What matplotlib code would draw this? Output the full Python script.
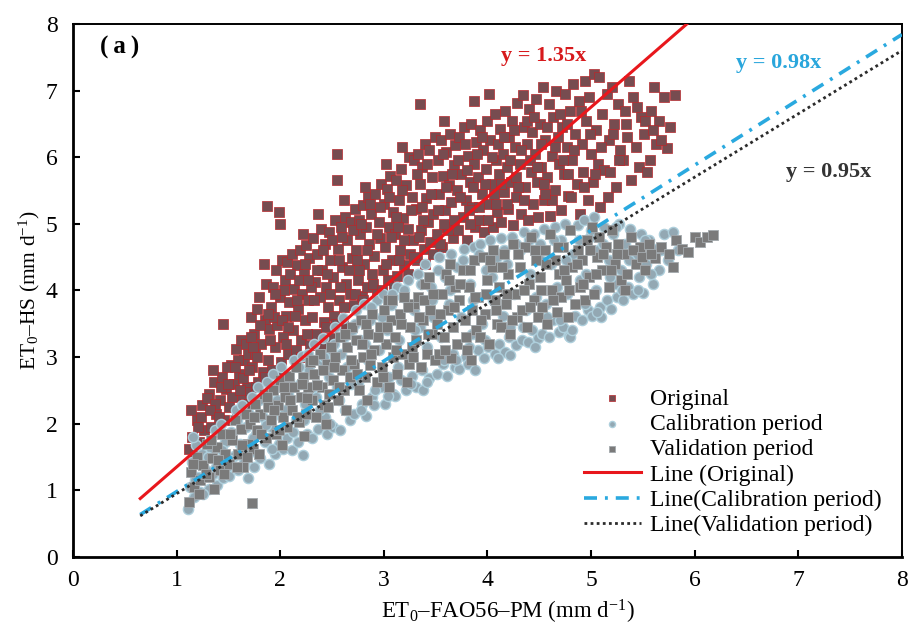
import matplotlib
matplotlib.use("Agg")
import matplotlib.pyplot as plt
import numpy as np

# ---- data (mm d-1) ----
original_pts = [
    (1.12, 1.62), (1.15, 1.80), (1.18, 1.55), (1.20, 2.05), (1.22, 1.72), (1.25, 2.28), (1.27, 1.90), (1.14, 2.20),
    (1.31, 2.45), (1.33, 1.95), (1.36, 2.62), (1.38, 2.15), (1.40, 1.88), (1.42, 2.35), (1.44, 2.70), (1.46, 2.05),
    (1.48, 2.52), (1.45, 3.50), (1.35, 2.80),
    (1.51, 2.25), (1.53, 2.88), (1.55, 2.60), (1.57, 3.12), (1.58, 2.18), (1.60, 2.75), (1.62, 3.25), (1.63, 2.42),
    (1.65, 2.95), (1.67, 3.20), (1.68, 2.55), (1.69, 3.05), (1.66, 2.30),
    (1.71, 2.48), (1.72, 3.60), (1.73, 2.85), (1.75, 3.35), (1.76, 3.05), (1.78, 3.72), (1.79, 2.62), (1.80, 3.90),
    (1.82, 3.20), (1.83, 2.78), (1.85, 3.55), (1.86, 4.10), (1.87, 5.27), (1.88, 2.95), (1.89, 3.42), (1.84, 4.40),
    (1.91, 3.75), (1.92, 2.80), (1.93, 4.05), (1.95, 3.15), (1.96, 4.30), (1.97, 3.48), (1.99, 5.17), (2.00, 3.90),
    (2.01, 2.92), (2.02, 4.45), (2.03, 3.30), (2.05, 4.15), (2.06, 3.62), (2.07, 4.42), (2.08, 3.05), (2.09, 3.82),
    (2.00, 5.00),
    (2.11, 4.55), (2.12, 3.40), (2.13, 4.02), (2.15, 3.10), (2.16, 4.38), (2.17, 3.72), (2.19, 4.60), (2.20, 3.25),
    (2.21, 3.95), (2.23, 4.25), (2.24, 3.55), (2.25, 4.68), (2.27, 3.85), (2.28, 4.48), (2.29, 3.18), (2.22, 4.85),
    (2.31, 3.60), (2.32, 4.78), (2.34, 4.12), (2.35, 3.35), (2.36, 4.55), (2.38, 3.90), (2.39, 4.92), (2.40, 4.30),
    (2.42, 3.52), (2.43, 4.70), (2.44, 4.05), (2.46, 3.75), (2.47, 4.88), (2.48, 4.45), (2.49, 3.28), (2.37, 5.15),
    (2.51, 4.20), (2.52, 3.62), (2.53, 5.05), (2.55, 6.05), (2.55, 5.65), (2.56, 4.62), (2.57, 3.85), (2.59, 4.95),
    (2.60, 4.35), (2.61, 3.50), (2.63, 5.10), (2.64, 4.10), (2.65, 4.75), (2.67, 3.95), (2.68, 5.02), (2.69, 4.48),
    (2.62, 5.35),
    (2.71, 3.78), (2.72, 5.22), (2.73, 4.60), (2.75, 4.15), (2.76, 5.05), (2.77, 4.85), (2.79, 3.92), (2.80, 5.28),
    (2.81, 4.40), (2.83, 4.95), (2.84, 4.05), (2.85, 5.40), (2.86, 4.70), (2.88, 5.15), (2.89, 4.25), (2.82, 5.55),
    (2.91, 4.52), (2.92, 5.45), (2.93, 3.98), (2.95, 5.02), (2.96, 4.78), (2.97, 5.60), (2.99, 4.30), (3.00, 5.30),
    (3.01, 4.65), (3.03, 5.52), (3.04, 4.15), (3.05, 4.95), (3.06, 5.72), (3.08, 4.45), (3.09, 5.18), (3.02, 5.90),
    (3.11, 4.85), (3.12, 5.65), (3.13, 4.22), (3.15, 5.35), (3.16, 4.60), (3.17, 5.82), (3.19, 5.08), (3.20, 4.38),
    (3.21, 5.58), (3.23, 4.92), (3.24, 6.00), (3.25, 4.55), (3.27, 5.40), (3.28, 4.75), (3.29, 5.95), (3.18, 6.15),
    (3.31, 5.22), (3.32, 4.45), (3.33, 6.05), (3.35, 6.80), (3.35, 5.60), (3.36, 4.90), (3.37, 5.85), (3.39, 4.62),
    (3.40, 6.20), (3.41, 5.38), (3.43, 5.02), (3.44, 6.10), (3.45, 4.72), (3.47, 5.70), (3.48, 5.15), (3.49, 6.30),
    (3.51, 4.85), (3.52, 5.95), (3.53, 5.45), (3.55, 6.25), (3.56, 4.65), (3.57, 5.72), (3.59, 5.20), (3.60, 6.08),
    (3.61, 4.95), (3.63, 5.58), (3.64, 6.35), (3.65, 5.32), (3.67, 4.78), (3.68, 5.88), (3.69, 6.18), (3.58, 6.55),
    (3.71, 5.50), (3.72, 4.90), (3.73, 6.30), (3.75, 5.75), (3.76, 5.10), (3.77, 6.45), (3.79, 5.35), (3.80, 4.75),
    (3.81, 6.02), (3.83, 5.62), (3.84, 6.50), (3.85, 5.25), (3.87, 6.85), (3.87, 5.90), (3.88, 4.95), (3.89, 6.22),
    (3.91, 5.70), (3.92, 5.05), (3.93, 6.40), (3.95, 5.45), (3.96, 6.10), (3.97, 4.88), (3.99, 5.82), (4.00, 6.55),
    (4.01, 5.30), (4.03, 6.25), (4.04, 5.60), (4.05, 4.95), (4.07, 6.65), (4.08, 5.95), (4.09, 5.18), (4.02, 6.95),
    (4.11, 5.75), (4.12, 6.42), (4.13, 5.02), (4.15, 6.05), (4.16, 5.48), (4.17, 6.70), (4.19, 5.85), (4.20, 5.22),
    (4.21, 6.30), (4.23, 5.62), (4.24, 6.55), (4.25, 4.98), (4.27, 6.15), (4.28, 5.40), (4.29, 6.82),
    (4.31, 5.90), (4.32, 5.15), (4.34, 6.93), (4.35, 6.45), (4.36, 5.55), (4.38, 6.20), (4.39, 5.05), (4.40, 6.72),
    (4.42, 5.78), (4.43, 6.38), (4.44, 5.30), (4.46, 6.05), (4.47, 6.88), (4.48, 5.62), (4.49, 5.10),
    (4.51, 6.50), (4.52, 5.85), (4.54, 7.05), (4.55, 5.35), (4.56, 6.25), (4.58, 5.70), (4.59, 6.80), (4.60, 5.12),
    (4.62, 6.02), (4.63, 6.60), (4.65, 5.50), (4.66, 7.00), (4.68, 6.30), (4.69, 5.90),
    (4.71, 5.20), (4.72, 6.45), (4.74, 5.75), (4.75, 6.95), (4.77, 6.15), (4.78, 5.42), (4.80, 6.70), (4.82, 5.95),
    (4.83, 7.10), (4.85, 6.35), (4.86, 5.60), (4.88, 6.85), (4.89, 5.15),
    (4.91, 6.20), (4.92, 5.78), (4.94, 7.15), (4.95, 6.55), (4.97, 5.35), (4.98, 6.90), (5.00, 6.05), (5.02, 5.62),
    (5.03, 7.25), (5.05, 6.40), (5.07, 5.90), (5.08, 7.20), (5.09, 5.25),
    (5.11, 6.65), (5.13, 5.80), (5.15, 6.95), (5.17, 6.25), (5.18, 5.77), (5.20, 7.05), (5.22, 6.50), (5.24, 5.55),
    (5.26, 6.80), (5.28, 6.10),
    (5.31, 5.95), (5.33, 6.70), (5.35, 6.30), (5.37, 7.15), (5.39, 5.65), (5.41, 6.90), (5.43, 6.15), (5.46, 5.85),
    (5.48, 6.60),
    (5.51, 6.35), (5.54, 5.77), (5.57, 5.96), (5.58, 6.70), (5.61, 7.05), (5.63, 6.20), (5.66, 6.55), (5.70, 6.90),
    (5.73, 6.14), (5.76, 6.45), (5.81, 6.93),
    # denser core
    (1.24, 2.10), (1.29, 2.38), (1.37, 2.30), (1.43, 2.55), (1.49, 2.85), (1.54, 2.40), (1.59, 2.95), (1.64, 2.68),
    (1.70, 2.80), (1.74, 3.15), (1.77, 2.55), (1.81, 3.48), (1.85, 2.70), (1.90, 3.25), (1.94, 3.60), (1.98, 2.75),
    (2.02, 3.55), (2.04, 4.00), (2.08, 3.45), (2.10, 4.25), (2.14, 3.62), (2.18, 4.15), (2.20, 3.00), (2.24, 4.40),
    (2.26, 3.35), (2.30, 4.05), (2.33, 3.85), (2.36, 4.30), (2.39, 3.20), (2.41, 4.60), (2.45, 4.25), (2.48, 3.95),
    (2.50, 4.75), (2.54, 3.50), (2.57, 4.45), (2.60, 4.80), (2.62, 3.75), (2.66, 4.30), (2.70, 4.90), (2.72, 3.95),
    (2.74, 4.45), (2.78, 5.00), (2.80, 3.85), (2.84, 4.60), (2.87, 5.30), (2.90, 4.10), (2.93, 4.85), (2.96, 5.25),
    (2.98, 4.00), (3.02, 4.40), (3.05, 5.40), (3.07, 4.80), (3.10, 4.05), (3.12, 5.10), (3.15, 4.45), (3.18, 5.50),
    (3.20, 4.75), (3.23, 4.25), (3.26, 5.20), (3.29, 4.50), (3.32, 5.75), (3.34, 4.80), (3.37, 5.25), (3.40, 4.40),
    (3.42, 5.90), (3.46, 5.45), (3.48, 4.55), (3.52, 5.20), (3.54, 4.70), (3.57, 6.05), (3.60, 5.55), (3.62, 4.90),
    (3.66, 5.75), (3.68, 5.05), (3.72, 5.95), (3.74, 5.40), (3.78, 6.20), (3.80, 5.80), (3.83, 5.00), (3.86, 5.55),
    (3.90, 6.05), (3.92, 5.25), (3.95, 6.30), (3.98, 5.60), (4.01, 5.05), (4.04, 6.00), (4.06, 5.45), (4.10, 6.20),
    (4.13, 5.60), (4.16, 6.30), (4.19, 5.30), (4.22, 5.95), (4.26, 6.40), (4.28, 5.70), (4.32, 6.10), (4.35, 5.35),
    (4.38, 6.55), (4.41, 5.95), (4.45, 6.60), (4.48, 5.85), (4.52, 6.20), (4.55, 5.60), (4.58, 6.45), (4.62, 5.35),
    (4.65, 6.15), (4.70, 6.65), (4.73, 5.95), (4.77, 6.50), (4.81, 5.40), (4.84, 6.10), (4.90, 6.70), (4.93, 5.55),
    (4.99, 6.35), (5.04, 5.75), (5.10, 6.15), (5.16, 5.40), (5.21, 6.35), (5.27, 5.95), (5.34, 6.50), (5.44, 6.75),
    (5.52, 6.55), (5.60, 6.40), (5.68, 6.25),
    (1.21, 1.95), (1.32, 2.20), (1.41, 2.10), (1.50, 2.60), (1.56, 2.85), (1.61, 2.50), (1.72, 3.30), (1.78, 3.00),
    (1.88, 3.65), (1.95, 3.95), (2.06, 3.20), (2.16, 3.85), (2.27, 4.15), (2.44, 3.45), (2.58, 4.05), (2.76, 4.30),
    (3.14, 4.95), (3.38, 5.05), (3.58, 5.00), (3.82, 5.20), (4.08, 5.30), (4.30, 5.55), (4.56, 5.45), (4.78, 5.75),
]

calibration_pts = [
    (1.11, 0.72), (1.13, 1.05), (1.15, 1.42), (1.17, 0.90), (1.19, 1.68), (1.21, 1.20), (1.23, 0.98), (1.25, 1.55),
    (1.28, 1.30), (1.16, 1.80),
    (1.31, 1.02), (1.33, 1.62), (1.35, 1.25), (1.37, 1.90), (1.39, 1.08), (1.41, 1.45), (1.43, 2.00), (1.45, 1.18),
    (1.47, 1.72), (1.49, 1.35),
    (1.51, 1.22), (1.53, 1.88), (1.55, 1.52), (1.57, 2.20), (1.59, 1.30), (1.61, 1.70), (1.63, 2.28), (1.65, 1.42),
    (1.67, 1.95), (1.69, 1.18),
    (1.71, 1.58), (1.73, 2.40), (1.75, 1.35), (1.77, 1.85), (1.79, 2.55), (1.81, 1.48), (1.83, 2.10), (1.85, 1.72),
    (1.87, 2.62), (1.89, 1.40),
    (1.91, 1.95), (1.93, 2.75), (1.95, 1.55), (1.97, 2.35), (1.99, 1.70), (2.01, 2.85), (2.03, 1.62), (2.05, 2.20),
    (2.07, 1.78), (2.09, 2.65),
    (2.11, 1.60), (2.13, 2.95), (2.15, 2.05), (2.17, 1.72), (2.19, 2.60), (2.21, 3.02), (2.22, 1.53), (2.24, 2.30),
    (2.26, 1.85), (2.28, 2.80),
    (2.31, 1.78), (2.33, 3.20), (2.35, 2.40), (2.37, 1.92), (2.39, 2.95), (2.41, 3.28), (2.43, 2.10), (2.45, 1.85),
    (2.47, 2.70), (2.49, 3.10),
    (2.51, 1.95), (2.53, 3.45), (2.55, 2.55), (2.58, 1.90), (2.59, 3.05), (2.61, 3.58), (2.63, 2.20), (2.65, 2.85),
    (2.67, 2.05), (2.69, 3.40),
    (2.71, 2.15), (2.73, 3.70), (2.75, 2.60), (2.77, 3.25), (2.79, 2.30), (2.81, 3.80), (2.83, 2.12), (2.85, 2.95),
    (2.87, 3.55), (2.89, 2.40),
    (2.91, 2.28), (2.93, 3.85), (2.95, 3.10), (2.97, 2.55), (2.99, 3.95), (3.01, 2.30), (3.03, 3.40), (3.05, 2.70),
    (3.07, 3.78), (3.09, 2.45),
    (3.11, 2.42), (3.13, 4.05), (3.15, 3.25), (3.17, 2.65), (3.19, 3.90), (3.21, 2.50), (3.23, 4.15), (3.25, 3.00),
    (3.27, 2.72), (3.29, 3.70),
    (3.31, 2.55), (3.33, 4.25), (3.35, 3.45), (3.37, 2.80), (3.38, 2.50), (3.40, 4.40), (3.42, 3.15), (3.44, 2.68),
    (3.46, 4.05), (3.48, 3.60),
    (3.51, 2.75), (3.53, 4.50), (3.55, 3.30), (3.57, 2.90), (3.59, 4.20), (3.61, 2.72), (3.63, 3.80), (3.65, 4.55),
    (3.67, 3.05), (3.69, 2.85),
    (3.71, 4.35), (3.73, 2.82), (3.75, 3.60), (3.77, 4.62), (3.79, 3.00), (3.81, 2.90), (3.83, 4.10), (3.85, 3.35),
    (3.87, 4.65), (3.88, 2.81),
    (3.91, 3.10), (3.93, 4.70), (3.95, 3.50), (3.97, 2.98), (3.99, 4.30), (4.01, 3.15), (4.03, 4.75), (4.05, 3.85),
    (4.07, 3.05), (4.09, 4.50),
    (4.11, 3.20), (4.13, 4.78), (4.15, 3.62), (4.17, 3.08), (4.19, 4.40), (4.21, 3.30), (4.22, 3.03), (4.24, 4.80),
    (4.26, 3.95), (4.28, 3.18),
    (4.31, 4.60), (4.33, 3.25), (4.35, 4.88), (4.37, 3.70), (4.39, 3.22), (4.41, 4.25), (4.43, 3.40), (4.45, 4.85),
    (4.47, 3.90), (4.49, 3.28),
    (4.51, 4.70), (4.53, 3.35), (4.55, 4.92), (4.57, 3.80), (4.59, 3.30), (4.61, 4.40), (4.63, 3.55), (4.65, 4.95),
    (4.67, 4.05), (4.69, 3.38),
    (4.71, 4.75), (4.73, 3.45), (4.75, 5.00), (4.77, 3.95), (4.79, 3.32), (4.80, 3.30), (4.83, 4.55), (4.85, 3.62),
    (4.87, 4.98), (4.89, 4.15),
    (4.91, 3.55), (4.93, 5.05), (4.95, 4.25), (4.97, 3.70), (4.99, 4.80), (5.01, 3.62), (5.03, 5.10), (5.05, 4.00),
    (5.07, 4.60), (5.09, 3.75),
    (5.10, 3.60), (5.13, 4.95), (5.15, 3.85), (5.17, 4.45), (5.19, 3.72), (5.21, 4.85), (5.23, 4.10), (5.25, 3.90),
    (5.27, 5.00), (5.29, 4.30),
    (5.31, 3.85), (5.33, 4.70), (5.36, 4.05), (5.38, 4.92), (5.41, 3.95), (5.43, 4.55), (5.46, 4.20), (5.48, 4.85),
    (5.50, 3.96),
    (5.53, 4.40), (5.56, 4.75), (5.60, 4.10), (5.63, 4.62), (5.66, 4.30), (5.70, 4.85), (5.74, 4.45), (5.79, 4.88),
    (5.84, 4.60),
    # filling in
    (1.18, 1.15), (1.26, 0.95), (1.30, 1.50), (1.38, 1.35), (1.44, 1.60), (1.52, 1.45), (1.58, 2.05), (1.64, 1.60),
    (1.70, 2.15), (1.74, 1.78), (1.80, 2.35), (1.86, 1.98), (1.92, 1.62), (1.96, 2.55), (2.02, 2.10), (2.08, 2.45),
    (2.12, 1.88), (2.18, 2.85), (2.23, 2.05), (2.27, 3.05), (2.32, 2.55), (2.38, 2.20), (2.42, 3.00), (2.48, 2.00),
    (2.52, 3.20), (2.57, 2.35), (2.62, 3.30), (2.68, 2.60), (2.72, 3.50), (2.78, 2.20), (2.82, 3.20), (2.88, 3.75),
    (2.92, 2.50), (2.98, 3.60), (3.04, 2.42), (3.08, 3.95), (3.14, 2.85), (3.20, 4.00), (3.26, 2.60), (3.30, 3.40),
    (3.36, 4.10), (3.42, 2.62), (3.47, 3.85), (3.52, 4.30), (3.58, 2.95), (3.64, 4.00), (3.70, 2.95), (3.76, 4.45),
    (3.82, 3.15), (3.86, 3.85), (3.92, 4.55), (3.98, 3.25), (4.04, 4.20), (4.10, 2.98), (4.16, 4.60), (4.22, 3.45),
    (4.28, 4.70), (4.34, 3.45), (4.40, 4.75), (4.46, 3.15), (4.52, 4.45), (4.58, 3.60), (4.64, 4.75), (4.70, 3.55),
    (4.76, 4.45), (4.82, 3.40), (4.88, 4.75), (4.94, 3.80), (5.00, 4.90), (5.06, 3.68), (5.12, 4.70), (5.18, 4.20),
    (5.24, 4.95), (5.30, 4.00), (5.37, 4.45), (5.45, 4.00), (5.52, 4.75), (5.58, 4.25), (5.68, 4.60),
]

validation_pts = [
    (1.12, 0.82), (1.14, 1.28), (1.17, 1.05), (1.20, 1.50), (1.23, 1.15), (1.26, 1.38), (1.29, 1.70),
    (1.31, 1.20), (1.34, 1.48), (1.36, 1.02), (1.39, 1.65), (1.42, 1.30), (1.44, 1.85), (1.47, 1.55),
    (1.51, 1.40), (1.54, 1.75), (1.56, 2.05), (1.59, 1.55), (1.62, 1.92), (1.64, 1.35), (1.67, 2.15), (1.69, 1.70),
    (1.73, 0.81),
    (1.71, 2.00), (1.74, 1.62), (1.76, 2.30), (1.78, 1.90), (1.81, 2.15), (1.84, 2.45), (1.86, 1.78), (1.88, 2.25),
    (1.80, 1.55),
    (1.91, 2.05), (1.93, 2.50), (1.96, 1.85), (1.98, 2.28), (2.00, 2.65), (2.03, 2.10), (2.05, 2.40), (2.07, 1.95),
    (2.09, 2.72), (2.02, 1.68),
    (2.11, 2.20), (2.13, 2.55), (2.15, 2.85), (2.18, 2.02), (2.20, 2.40), (2.22, 2.70), (2.25, 2.15), (2.27, 2.55),
    (2.29, 2.92), (2.23, 1.82),
    (2.31, 2.35), (2.33, 2.75), (2.35, 2.10), (2.38, 3.05), (2.40, 2.55), (2.42, 2.28), (2.45, 2.90), (2.47, 2.45),
    (2.49, 3.15), (2.44, 2.00),
    (2.51, 2.65), (2.53, 3.00), (2.56, 2.35), (2.58, 3.30), (2.60, 2.80), (2.62, 2.50), (2.65, 3.15), (2.67, 2.70),
    (2.69, 3.45), (2.64, 2.20),
    (2.71, 2.90), (2.73, 3.25), (2.76, 2.50), (2.78, 3.55), (2.80, 3.00), (2.82, 2.70), (2.85, 3.35), (2.87, 2.88),
    (2.89, 3.65), (2.84, 2.35),
    (2.91, 3.10), (2.93, 2.62), (2.96, 3.45), (2.98, 2.85), (3.00, 3.70), (3.02, 3.20), (3.05, 2.55), (3.07, 3.55),
    (3.09, 3.00), (3.04, 3.85),
    (3.11, 3.30), (3.13, 2.75), (3.16, 3.65), (3.18, 3.05), (3.20, 3.90), (3.22, 2.62), (3.25, 3.45), (3.27, 3.15),
    (3.29, 3.80), (3.24, 2.90),
    (3.31, 3.25), (3.33, 3.90), (3.36, 2.85), (3.38, 3.55), (3.40, 4.10), (3.42, 3.05), (3.45, 3.70), (3.47, 3.35),
    (3.49, 2.95), (3.44, 4.20),
    (3.51, 3.50), (3.53, 3.05), (3.56, 3.95), (3.58, 3.30), (3.60, 4.25), (3.62, 3.70), (3.65, 2.98), (3.67, 3.45),
    (3.69, 4.05), (3.64, 4.40),
    (3.71, 3.20), (3.73, 3.85), (3.76, 4.30), (3.78, 3.55), (3.80, 3.10), (3.82, 4.05), (3.85, 3.70), (3.87, 4.45),
    (3.89, 3.40), (3.84, 2.95),
    (3.91, 3.90), (3.93, 3.30), (3.96, 4.50), (3.98, 3.65), (4.00, 4.15), (4.02, 3.20), (4.05, 4.60), (4.07, 3.85),
    (4.09, 3.50), (4.04, 4.35),
    (4.11, 4.05), (4.13, 3.45), (4.16, 4.55), (4.18, 3.80), (4.20, 4.25), (4.22, 3.35), (4.25, 4.70), (4.27, 3.95),
    (4.29, 3.60),
    (4.31, 4.35), (4.33, 3.70), (4.36, 4.65), (4.38, 3.45), (4.40, 4.10), (4.42, 4.80), (4.45, 3.85), (4.47, 4.45),
    (4.49, 3.60),
    (4.51, 4.20), (4.53, 3.75), (4.56, 4.60), (4.58, 3.50), (4.60, 4.85), (4.62, 4.00), (4.65, 4.45), (4.67, 3.68),
    (4.69, 4.25),
    (4.71, 3.90), (4.73, 4.65), (4.76, 4.15), (4.78, 3.60), (4.80, 4.90), (4.82, 4.35), (4.85, 3.80), (4.87, 4.60),
    (4.89, 4.05),
    (4.91, 4.45), (4.94, 3.85), (4.96, 4.75), (4.98, 4.20), (5.01, 4.95), (5.03, 3.95), (5.06, 4.50), (5.08, 4.80),
    (5.11, 4.30), (5.14, 4.65), (5.17, 4.05), (5.20, 4.90), (5.23, 4.40), (5.26, 4.70), (5.29, 4.15),
    (5.32, 4.55), (5.35, 4.25), (5.39, 4.80), (5.43, 4.40), (5.47, 4.65), (5.52, 4.30), (5.56, 4.70),
    (5.62, 4.48), (5.68, 4.65), (5.75, 4.55), (5.82, 4.75), (5.88, 4.62), (5.94, 4.58), (6.00, 4.80), (6.05, 4.73),
    (6.12, 4.80), (6.18, 4.83), (5.79, 4.35),
    # filling in
    (1.16, 1.40), (1.22, 0.95), (1.28, 1.25), (1.33, 1.75), (1.40, 1.45), (1.46, 1.25), (1.52, 1.85), (1.58, 1.35),
    (1.63, 1.68), (1.68, 1.50), (1.75, 2.10), (1.82, 1.85), (1.87, 2.40), (1.94, 2.20), (1.99, 1.90), (2.04, 2.55),
    (2.10, 2.35), (2.16, 2.10), (2.21, 2.60), (2.26, 2.38), (2.32, 2.95), (2.36, 2.58), (2.41, 2.80), (2.46, 2.25),
    (2.52, 2.85), (2.57, 2.55), (2.63, 3.35), (2.68, 2.95), (2.74, 2.75), (2.79, 3.20), (2.83, 3.50), (2.88, 3.05),
    (2.94, 3.30), (2.99, 2.70), (3.03, 3.45), (3.08, 3.85), (3.12, 3.10), (3.17, 3.50), (3.23, 3.75), (3.28, 3.00),
    (3.34, 3.60), (3.39, 3.85), (3.43, 3.35), (3.48, 3.95), (3.54, 3.65), (3.59, 3.10), (3.63, 4.15), (3.68, 3.75),
    (3.74, 4.10), (3.79, 3.30), (3.83, 4.30), (3.88, 3.90), (3.94, 3.55), (3.99, 3.95), (4.03, 4.45), (4.08, 3.70),
    (4.14, 4.35), (4.19, 3.95), (4.24, 3.55), (4.30, 4.55), (4.35, 4.00), (4.41, 3.75), (4.46, 4.60), (4.52, 4.00),
    (4.57, 4.40), (4.63, 3.85), (4.68, 4.65), (4.74, 4.30), (4.79, 4.00), (4.86, 4.40), (4.92, 4.10), (4.99, 4.60),
    (5.05, 4.25), (5.12, 4.55), (5.19, 4.30), (5.25, 4.55), (5.33, 4.00), (5.41, 4.60), (5.49, 4.50), (5.58, 4.55),
]

# regression lines through origin, drawn from x = 0.65
fit_names = ["Line (Original)", "Line(Calibration period)", "Line(Validation period)"]
fit_slopes = [1.35, 0.98, 0.95]
fit_x0 = 0.65

plt.rcParams["font.family"] = ["Liberation Serif", "Noto Sans CJK SC"]
plt.rcParams["mathtext.fontset"] = "custom"
plt.rcParams["mathtext.rm"] = "Liberation Serif"
plt.rcParams["mathtext.it"] = "Liberation Serif:italic"
plt.rcParams["mathtext.bf"] = "Liberation Serif:bold"

fig = plt.figure(figsize=(9.11, 6.28), dpi=100)
ax = fig.add_axes([0.080, 0.113, 0.910, 0.849])

orig = np.array(original_pts)
cal = np.array(calibration_pts)
val = np.array(validation_pts)

ax.scatter(orig[:, 0], orig[:, 1], s=44, marker="s", facecolor="#774c50",
           edgecolor="#b8282c", linewidth=0.5, label="Original", zorder=2)
ax.scatter(cal[:, 0], cal[:, 1], s=54, marker="o", facecolor="#93a8b3",
           edgecolor="#aecfdc", linewidth=1.0, label="Calibration period", zorder=3)
ax.scatter(val[:, 0], val[:, 1], s=46, marker="s", facecolor="#7a7a7a",
           edgecolor="#a3a9ad", linewidth=0.6, label="Validation period", zorder=4)

styles = [
    dict(color="#e8171c", lw=2.2, ls="-"),
    dict(color="#2aa9df", lw=2.6, ls=(0, (3.6, 2.2, 0.8, 2.2))),
    dict(color="#2b2b2b", lw=2.0, ls=(0, (1, 1.2))),
]
for name, k, st in zip(fit_names, fit_slopes, styles):
    x_end = min(8.0, 8.0 / k)
    xs = np.array([fit_x0, x_end])
    ax.plot(xs, k * xs, label=name, zorder=5, **st)

ax.text(4.54, 7.52, "y = 1.35x", color="#d7191c", fontsize=16, fontweight="bold", ha="center", va="center")
ax.text(6.81, 7.42, "y = 0.98x", color="#29a6dc", fontsize=16, fontweight="bold", ha="center", va="center")
ax.text(7.29, 5.78, "y = 0.95x", color="#333333", fontsize=16, fontweight="bold", ha="center", va="center")
ax.text(0.45, 7.64, "(\u2009a\u2009)", fontsize=18, fontweight="bold", ha="center", va="center")

ax.set_xlim(0, 8)
ax.set_ylim(0, 8)
ax.set_xticks(range(0, 9))
ax.set_yticks(range(0, 9))
ax.tick_params(direction="in", length=5, width=1.5, labelsize=17, pad=9)
ax.tick_params(axis="y", pad=11)
for side in ["left", "bottom"]:
    ax.spines[side].set_linewidth(2.0)
for side in ["top", "right"]:
    ax.spines[side].set_linewidth(1.4)

ax.set_xlabel(r"ET$_\mathrm{0}$–FAO56–PM (mm d$^{\mathrm{-1}}$)", fontsize=16.5, labelpad=5)
ax.xaxis.label.set_x(0.525)
ax.set_ylabel(r"ET$_\mathrm{0}$–HS (mm d$^{\mathrm{-1}}$)", fontsize=15.5, labelpad=3)

ax.legend(loc="lower right", bbox_to_anchor=(0.99, 0.017), frameon=False, fontsize=17,
          labelspacing=0.16, handlelength=2.4, handletextpad=0.4, borderpad=0, markerscale=0.6)

fig.savefig("out.png", dpi=100)
